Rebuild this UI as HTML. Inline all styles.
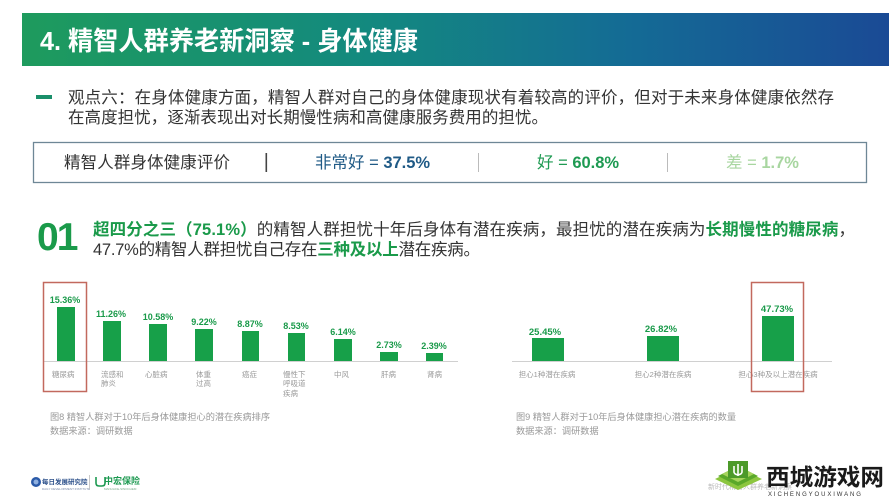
<!DOCTYPE html>
<html><head><meta charset="utf-8"><style>
html,body{margin:0;padding:0;background:#fff;}
svg{display:block;}
text{font-family:"Liberation Sans","Noto Sans CJK SC",sans-serif;}
</style></head><body>
<svg width="889" height="500" viewBox="0 0 889 500" xmlns="http://www.w3.org/2000/svg">
<defs>
<linearGradient id="hg" x1="0" y1="0" x2="1" y2="0">
<stop offset="0" stop-color="#1e9b5d"/>
<stop offset="0.4" stop-color="#13897f"/>
<stop offset="0.7" stop-color="#146b95"/>
<stop offset="1" stop-color="#1a4a95"/>
</linearGradient>
</defs>
<rect x="0" y="0" width="889" height="500" fill="#fff"/>
<!-- header -->
<rect x="22" y="13" width="867" height="53" fill="url(#hg)"/>
<text x="40" y="50" font-size="26" font-weight="bold" fill="#fff" textLength="378" lengthAdjust="spacingAndGlyphs">4. 精智人群养老新洞察 - 身体健康</text>

<!-- paragraph -->
<rect x="36" y="95" width="16" height="4" fill="#1a8f6a"/>
<text x="68" y="103" font-size="16.5" fill="#333" textLength="766" lengthAdjust="spacing">观点六：在身体健康方面，精智人群对自己的身体健康现状有着较高的评价，但对于未来身体健康依然存</text>
<text x="68" y="123" font-size="16.5" fill="#333" textLength="480" lengthAdjust="spacing">在高度担忧，逐渐表现出对长期慢性病和高健康服务费用的担忧。</text>

<!-- rating box -->
<rect x="33.5" y="142.5" width="833" height="40" fill="#fff" stroke="#6e8796" stroke-width="1.3"/>
<text x="64" y="168" font-size="16.5" fill="#333" textLength="166" lengthAdjust="spacing">精智人群身体健康评价</text>
<rect x="265.5" y="153" width="1.6" height="19" fill="#444"/>
<rect x="478" y="153" width="1" height="19" fill="#bbb"/>
<rect x="667" y="153" width="1" height="19" fill="#bbb"/>
<text x="315" y="168" font-size="16.5" fill="#1f5a86">非常好 = <tspan font-weight="bold">37.5%</tspan></text>
<text x="537" y="168" font-size="16.5" fill="#1e9a52">好 = <tspan font-weight="bold">60.8%</tspan></text>
<text x="726" y="168" font-size="16.5" fill="#a8d6a0">差 = <tspan font-weight="bold">1.7%</tspan></text>

<!-- 01 section -->
<text x="37" y="250" font-size="39" font-weight="bold" fill="#1a9a4a" letter-spacing="-2">01</text>
<text x="93" y="235" font-size="16.5" fill="#333" textLength="762" lengthAdjust="spacing"><tspan font-weight="bold" fill="#1a9a4a">超四分之三（75.1%）</tspan>的精智人群担忧十年后身体有潜在疾病，最担忧的潜在疾病为<tspan font-weight="bold" fill="#1a9a4a">长期慢性的糖尿病</tspan>，</text>
<text x="93" y="255" font-size="16.5" fill="#333" textLength="387" lengthAdjust="spacing">47.7%的精智人群担忧自己存在<tspan font-weight="bold" fill="#1a9a4a">三种及以上</tspan>潜在疾病。</text>

<!-- chart 1 -->
<line x1="43" y1="361.5" x2="458" y2="361.5" stroke="#d0d0d0" stroke-width="1"/>
<g fill="#17a049">
<rect x="57" y="307" width="18" height="54"/>
<rect x="103" y="321" width="18" height="40"/>
<rect x="149" y="324" width="18" height="37"/>
<rect x="195" y="329" width="18" height="32"/>
<rect x="242" y="331" width="17" height="30"/>
<rect x="288" y="333" width="17" height="28"/>
<rect x="334" y="339" width="18" height="22"/>
<rect x="380" y="352" width="18" height="9"/>
<rect x="426" y="353" width="17" height="8"/>
</g>
<g font-size="9" font-weight="bold" fill="#1a9a4a" text-anchor="middle">
<text x="65" y="303">15.36%</text>
<text x="111" y="317">11.26%</text>
<text x="158" y="320">10.58%</text>
<text x="204" y="325">9.22%</text>
<text x="250" y="327">8.87%</text>
<text x="296" y="329">8.53%</text>
<text x="343" y="335">6.14%</text>
<text x="389" y="348">2.73%</text>
<text x="434" y="349">2.39%</text>
</g>
<g font-size="7.5" fill="#999">
<text x="52" y="377">糖尿病</text>
<text x="101" y="377">流感和</text>
<text x="101" y="386">肺炎</text>
<text x="145" y="377">心脏病</text>
<text x="196" y="377">体重</text>
<text x="196" y="386">过高</text>
<text x="242" y="377">癌症</text>
<text x="283" y="377">慢性下</text>
<text x="283" y="386">呼吸道</text>
<text x="283" y="396">疾病</text>
<text x="334" y="377">中风</text>
<text x="381" y="377">肝病</text>
<text x="427" y="377">肾病</text>
</g>
<rect x="43.5" y="282.5" width="43" height="109" fill="none" stroke="#c2695e" stroke-width="1.5"/>
<g font-size="9.2" fill="#999">
<text x="50" y="420">图8 精智人群对于10年后身体健康担心的潜在疾病排序</text>
<text x="50" y="434">数据来源：调研数据</text>
</g>

<!-- chart 2 -->
<line x1="512" y1="361.5" x2="832" y2="361.5" stroke="#d0d0d0" stroke-width="1"/>
<g fill="#17a049">
<rect x="532" y="338" width="32" height="23"/>
<rect x="647" y="336" width="32" height="25"/>
<rect x="762" y="316" width="32" height="45"/>
</g>
<g font-size="9.5" font-weight="bold" fill="#1a9a4a" text-anchor="middle">
<text x="545" y="335">25.45%</text>
<text x="661" y="332">26.82%</text>
<text x="777" y="312">47.73%</text>
</g>
<g font-size="7.5" fill="#999" text-anchor="middle">
<text x="547" y="377">担心1种潜在疾病</text>
<text x="663" y="377">担心2种潜在疾病</text>
<text x="778" y="377">担心3种及以上潜在疾病</text>
</g>
<rect x="751.5" y="282.5" width="52" height="109" fill="none" stroke="#c2695e" stroke-width="1.5"/>
<g font-size="9.2" fill="#999">
<text x="516" y="420">图9 精智人群对于10年后身体健康担心潜在疾病的数量</text>
<text x="516" y="434">数据来源：调研数据</text>
</g>

<!-- footer logos -->
<circle cx="36" cy="482" r="5" fill="#2b5aa8"/>
<circle cx="36" cy="482" r="2.5" fill="#8fb0e0"/>
<text x="42" y="484" font-size="6.5" fill="#2b4f8a" font-weight="bold">每日发展研究院</text>
<text x="42" y="490" font-size="3" fill="#7a8aa8">DAILY DEVELOPMENT INSTITUTE</text>
<rect x="89" y="475" width="0.8" height="14" fill="#bbb"/>
<path d="M96 477 v6 q0 3 3 3 h3 q3 0 3 -3 v-6" fill="none" stroke="#1e9a52" stroke-width="1.6"/>
<text x="104" y="484" font-size="9" fill="#1e9a52" font-weight="bold">中宏保险</text>
<text x="104" y="490" font-size="3" fill="#7aa88a">MANULIFE-SINOCHEM</text>

<!-- watermark -->
<text x="708" y="489" font-size="7" fill="#bbb">新时代精智人群养老新洞察</text>
<polygon points="715,479 738,468 762,479 738,490" fill="#8cc63f"/>
<polygon points="718,476 738,466 758,476 738,486" fill="#5aa82a"/>
<polygon points="722,474 738,466 754,474 738,482" fill="#a6d45c"/>
<rect x="728" y="461" width="20" height="17" fill="#4c9a2a"/>
<path d="M738 464 v12 M734 466 v6 q0 2 4 3 M742 466 v6 q0 2 -4 3" stroke="#fff" stroke-width="1.6" fill="none"/>
<text x="766" y="485" font-size="23" font-weight="bold" fill="#1a1a1a" font-family="'Liberation Serif','Noto Serif CJK SC',serif" textLength="118" lengthAdjust="spacingAndGlyphs">西城游戏网</text>
<text x="768" y="496" font-size="6" fill="#333" letter-spacing="1.9">XICHENGYOUXIWANG</text>
</svg>
</body></html>
